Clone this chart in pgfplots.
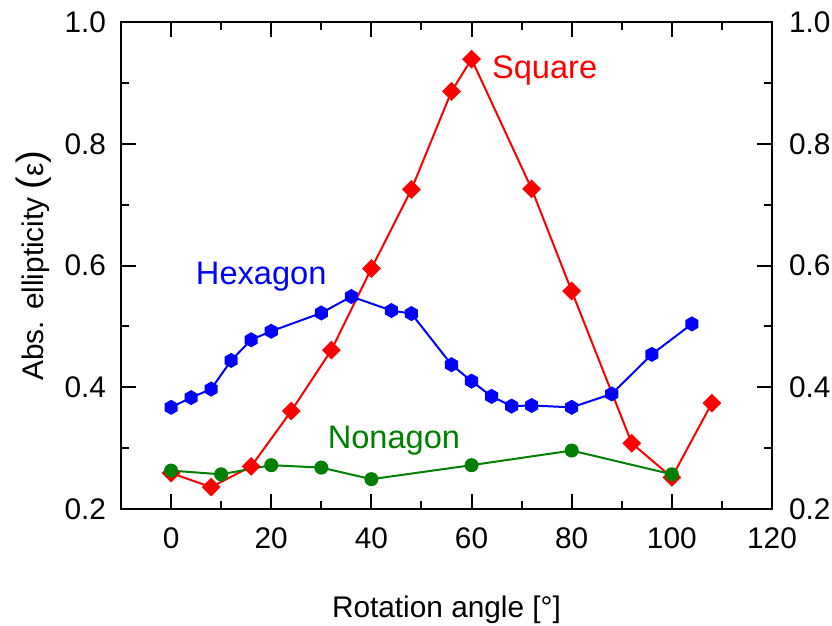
\documentclass[border=0pt]{standalone}
\usepackage{fontspec}
\setmainfont{Liberation Sans}
\usepackage{pgfplots}
\pgfplotsset{compat=1.18}
\definecolor{rred}{RGB}{255,0,0}
\definecolor{bblue}{RGB}{0,0,255}
\definecolor{ggreen}{RGB}{0,128,0}
\pgfdeclareplotmark{hex}{%
  \pgfpathmoveto{\pgfqpointpolar{90}{\pgfplotmarksize}}%
  \pgfpathlineto{\pgfqpointpolar{150}{\pgfplotmarksize}}%
  \pgfpathlineto{\pgfqpointpolar{210}{\pgfplotmarksize}}%
  \pgfpathlineto{\pgfqpointpolar{270}{\pgfplotmarksize}}%
  \pgfpathlineto{\pgfqpointpolar{330}{\pgfplotmarksize}}%
  \pgfpathlineto{\pgfqpointpolar{30}{\pgfplotmarksize}}%
  \pgfpathclose\pgfusepathqfillstroke}
\pgfdeclareplotmark{sqdiamond}{%
  \pgfpathmoveto{\pgfqpoint{0pt}{\pgfplotmarksize}}%
  \pgfpathlineto{\pgfqpoint{-\pgfplotmarksize}{0pt}}%
  \pgfpathlineto{\pgfqpoint{0pt}{-\pgfplotmarksize}}%
  \pgfpathlineto{\pgfqpoint{\pgfplotmarksize}{0pt}}%
  \pgfpathclose\pgfusepathqfillstroke}
\pgfplotsset{
  common/.style={
    scale only axis, width=325.5pt, height=243.5pt,
    at={(0,0)}, anchor=south west,
    xmin=-10, xmax=120, ymin=0.2, ymax=1.0,
    xtick={0,20,...,120}, ytick={0.2,0.4,...,1.0},
    minor x tick num=1, minor y tick num=1,
    tick align=inside,
    major tick length=7.5pt, minor tick length=4pt,
    every tick/.style={line width=1pt, black},
    axis line style={line width=1pt},
    /pgf/number format/assume math mode=true,
    /pgf/number format/fixed, /pgf/number format/fixed zerofill,
    tick label style={font=\fontsize{14.9}{17}\selectfont},
    xticklabel style={/pgf/number format/precision=0},
    yticklabel style={/pgf/number format/precision=1},
  }
}
\begin{document}
\begin{tikzpicture}
\useasboundingbox (-60.5pt,-58.5pt) rectangle (355.5pt,254.5pt);
\begin{axis}[common,
  xlabel={Rotation angle [°]},
  ylabel={Abs. ellipticity {\fontsize{19}{19}\selectfont(}ε{\fontsize{19}{19}\selectfont)}},
  label style={font=\fontsize{14.9}{17}\selectfont},
  xlabel style={at={(axis description cs:0.5,-0.2218)}, anchor=base},
  ylabel style={at={(axis description cs:-0.1336,0.5)}, anchor=center},
  yticklabel style={xshift=-4pt},
  xticklabel style={yshift=-6pt},
  clip=false,
]
\addplot[color=rred, line width=1pt, mark=sqdiamond, mark size=4pt] coordinates {
 (0,0.259) (8,0.236) (16,0.270) (24,0.361) (32,0.461) (40,0.595) (48,0.725)
 (56,0.886) (60,0.939) (72,0.726) (80,0.558) (92,0.308) (100,0.252) (108,0.374)};
\addplot[color=bblue, line width=1pt, mark=hex, mark size=3.2pt] coordinates {
 (0,0.367) (4,0.383) (8,0.397) (12,0.444) (16,0.478) (20,0.492) (30,0.522)
 (36,0.549) (44,0.526) (48,0.521) (56,0.437) (60,0.410) (64,0.385) (68,0.369)
 (72,0.370) (80,0.367) (88,0.389) (96,0.454) (104,0.504)};
\addplot[color=ggreen, line width=1pt, mark=*, mark size=3pt] coordinates {
 (0,0.263) (10,0.257) (20,0.272) (30,0.268) (40,0.249) (60,0.272) (80,0.296) (100,0.257)};
\node[rred, font=\fontsize{16.3}{19}\selectfont] at (axis cs:74.6,0.921) {Square};
\node[bblue, font=\fontsize{16.3}{19}\selectfont] at (axis cs:18,0.581) {Hexagon};
\node[ggreen, font=\fontsize{16.3}{19}\selectfont] at (axis cs:44.5,0.313) {Nonagon};
\end{axis}
\begin{axis}[common,
  hide x axis,
  yticklabel pos=right,
  axis line style={draw=none},
  every tick/.style={draw=none},
  yticklabel style={xshift=5pt},
]
\addplot[draw=none] coordinates {(0,0.5)};
\end{axis}
\end{tikzpicture}
\end{document}
